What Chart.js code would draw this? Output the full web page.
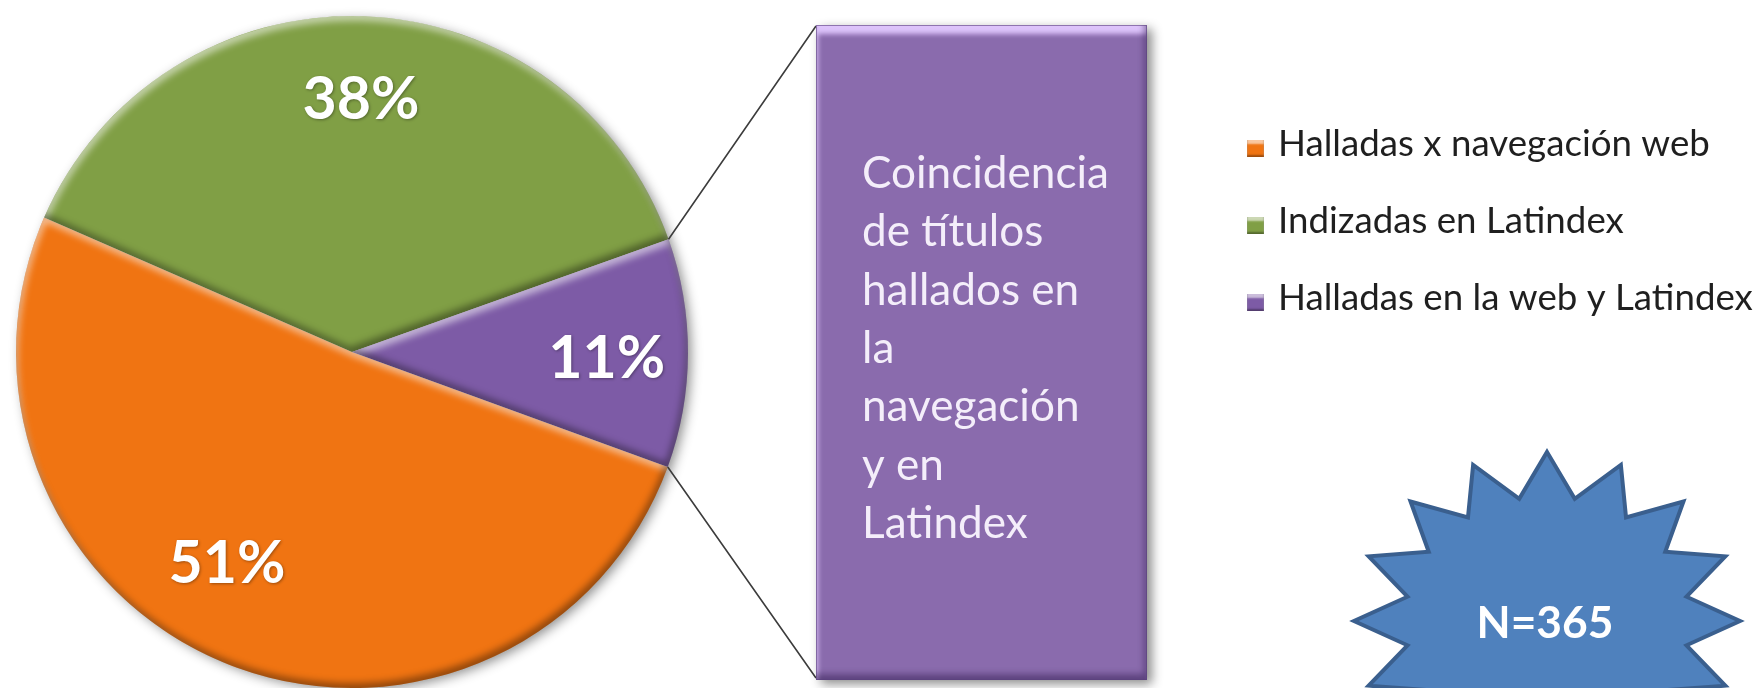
<!DOCTYPE html>
<html>
<head>
<meta charset="utf-8">
<script src="https://cdn.jsdelivr.net/npm/chart.js@4.4.1/dist/chart.umd.min.js"></script>
<style>
  html, body { margin: 0; padding: 0; background: #ffffff; overflow: hidden; }
  canvas { display: block; }
</style>
</head>
<body>
<canvas id="chart" width="1758" height="688"></canvas>
<script>
// ---------------- data ----------------
const categories = ['Halladas x navegación web', 'Indizadas en Latindex', 'Halladas en la web y Latindex'];
const values = [51, 38, 11];
const valueLabels = values.map(v => v + '%');
const calloutLines = ['Coincidencia', 'de títulos', 'hallados en', 'la', 'navegación', 'y en', 'Latindex'];
const sampleLabel = 'N=365';

// ---------------- styles ----------------
const sliceColors = ['#f07412', '#809f45', '#7d5ba6'];
const labelRadiusFrac = [0.727, 0.758, 0.758];
const labelAngleShiftDeg = [9, 0, 0.8];
const FONT = 'Lato, "Open Sans", "DejaVu Sans", sans-serif';
const calloutIndex = 2; // slice the callout box explains

const boxStyle = { x: 816, y: 25, w: 331, h: 655, fill: '#8a6bad' };
const calloutText = { x: 862, firstBaseline: 188, step: 58.3, refWidth: 247, color: '#f4eefa' };
const legendStyle = { markerX: 1247, textX: 1278, baselines: [156, 233, 310], marker: 17, refWidth: 432, color: '#1f1f1f' };
const starStyle = { cx: 1547, cy: 621, rx: 193, ry: 169, inner: 0.737, points: 16, fill: '#4f81bd', stroke: '#3a5f8e' };

function fitSize(ctx, text, weight, targetW) {
  ctx.font = weight + ' 100px ' + FONT;
  return 100 * targetW / ctx.measureText(text).width;
}

function insetShadow(ctx, buildPath, color, dx, dy, blur) {
  const OFF = 6000;
  ctx.save();
  ctx.beginPath(); buildPath(ctx); ctx.clip();
  ctx.translate(OFF, 0);
  ctx.beginPath();
  ctx.rect(-3000, -3000, 8000, 8000);
  buildPath(ctx);
  ctx.shadowColor = color;
  ctx.shadowBlur = blur;
  ctx.shadowOffsetX = -OFF + dx;
  ctx.shadowOffsetY = dy;
  ctx.fillStyle = '#000';
  ctx.fill('evenodd');
  ctx.restore();
}

function arcPath(p) {
  return c => { c.moveTo(p.x, p.y); c.arc(p.x, p.y, p.outerRadius, p.startAngle, p.endAngle); c.closePath(); };
}

const decor = {
  id: 'decor',
  beforeDatasetsDraw(chart) {
    const ctx = chart.ctx;
    const arc = chart.getDatasetMeta(0).data[0];
    const p = arc.getProps(['x', 'y', 'outerRadius'], true);
    ctx.save();
    ctx.shadowColor = 'rgba(0,0,0,0.45)';
    ctx.shadowBlur = 12;
    ctx.shadowOffsetX = 4;
    ctx.shadowOffsetY = 3;
    ctx.beginPath();
    ctx.arc(p.x, p.y, p.outerRadius - 1, 0, Math.PI * 2);
    ctx.fillStyle = '#ffffff';
    ctx.fill();
    ctx.restore();
  },
  afterDatasetsDraw(chart) {
    const ctx = chart.ctx;
    const meta = chart.getDatasetMeta(0);
    // bevel
    meta.data.forEach(arc => {
      const p = arc.getProps(['x', 'y', 'startAngle', 'endAngle', 'outerRadius'], true);
      const path = arcPath(p);
      insetShadow(ctx, path, 'rgba(255,255,255,0.55)', 2, 5, 7);
      insetShadow(ctx, path, 'rgba(0,0,0,0.38)', -2, -5, 7);
    });
    // percentage labels
    const size = fitSize(ctx, valueLabels[1], 'bold', 117);
    meta.data.forEach((arc, i) => {
      const p = arc.getProps(['x', 'y', 'startAngle', 'endAngle', 'outerRadius'], true);
      const mid = (p.startAngle + p.endAngle) / 2 + labelAngleShiftDeg[i] * Math.PI / 180;
      const r = p.outerRadius * labelRadiusFrac[i];
      const lx = p.x + Math.cos(mid) * r;
      const ly = p.y + Math.sin(mid) * r;
      ctx.save();
      ctx.font = 'bold ' + size.toFixed(1) + 'px ' + FONT;
      ctx.textAlign = 'center';
      ctx.textBaseline = 'alphabetic';
      ctx.fillStyle = '#ffffff';
      ctx.shadowColor = 'rgba(0,0,0,0.35)';
      ctx.shadowBlur = 3;
      ctx.shadowOffsetX = 1;
      ctx.shadowOffsetY = 1;
      ctx.fillText(valueLabels[i], lx, ly + size * 0.36);
      ctx.restore();
    });
  },
  afterDraw(chart) {
    const ctx = chart.ctx;
    const meta = chart.getDatasetMeta(0);
    const b = boxStyle;

    // connectors from the explained slice to the callout box
    const pa = meta.data[calloutIndex].getProps(['x', 'y', 'startAngle', 'endAngle', 'outerRadius'], true);
    const p1 = [pa.x + Math.cos(pa.startAngle) * pa.outerRadius, pa.y + Math.sin(pa.startAngle) * pa.outerRadius];
    const p2 = [pa.x + Math.cos(pa.endAngle) * pa.outerRadius, pa.y + Math.sin(pa.endAngle) * pa.outerRadius];
    ctx.save();
    ctx.strokeStyle = '#3c3c3c';
    ctx.lineWidth = 1.6;
    ctx.beginPath();
    ctx.moveTo(p1[0], p1[1]); ctx.lineTo(b.x, b.y + 1);
    ctx.moveTo(p2[0], p2[1]); ctx.lineTo(b.x, b.y + b.h - 2);
    ctx.stroke();
    ctx.restore();

    // callout box
    const rectPath = c => c.rect(b.x, b.y, b.w, b.h);
    ctx.save();
    ctx.shadowColor = 'rgba(0,0,0,0.45)';
    ctx.shadowBlur = 10;
    ctx.shadowOffsetX = 5;
    ctx.shadowOffsetY = 4;
    ctx.fillStyle = b.fill;
    ctx.beginPath(); rectPath(ctx); ctx.fill();
    ctx.restore();
    insetShadow(ctx, rectPath, 'rgba(225,200,255,0.95)', 2, 9, 5);
    insetShadow(ctx, rectPath, 'rgba(40,20,70,0.45)', -3, -6, 6);
    ctx.save();
    ctx.strokeStyle = 'rgba(90,65,125,0.6)';
    ctx.lineWidth = 1;
    ctx.strokeRect(b.x + 0.5, b.y + 0.5, b.w - 1, b.h - 1);
    ctx.restore();

    // callout text
    const ct = calloutText;
    const cs = fitSize(ctx, calloutLines[0], 'normal', ct.refWidth);
    ctx.save();
    ctx.font = cs.toFixed(1) + 'px ' + FONT;
    ctx.fillStyle = ct.color;
    ctx.textAlign = 'left';
    ctx.textBaseline = 'alphabetic';
    calloutLines.forEach((line, i) => ctx.fillText(line, ct.x, ct.firstBaseline + i * ct.step));
    ctx.restore();

    // legend
    const lg = legendStyle;
    const ls = fitSize(ctx, categories[0], 'normal', lg.refWidth);
    categories.forEach((name, i) => {
      const by = lg.baselines[i];
      const my = by - lg.marker + 1;
      const mPath = c => c.rect(lg.markerX, my, lg.marker, lg.marker);
      ctx.save();
      ctx.fillStyle = sliceColors[i];
      ctx.beginPath(); mPath(ctx); ctx.fill();
      ctx.restore();
      insetShadow(ctx, mPath, 'rgba(255,255,255,0.6)', 0, 4, 2);
      insetShadow(ctx, mPath, 'rgba(0,0,0,0.35)', 0, -2, 2);
      ctx.save();
      ctx.font = ls.toFixed(1) + 'px ' + FONT;
      ctx.fillStyle = lg.color;
      ctx.textAlign = 'left';
      ctx.textBaseline = 'alphabetic';
      ctx.fillText(name, lg.textX, by);
      ctx.restore();
    });

    // starburst
    const s = starStyle;
    ctx.save();
    ctx.beginPath();
    for (let k = 0; k < s.points * 2; k++) {
      const ang = -Math.PI / 2 + k * Math.PI / s.points;
      const f = k % 2 === 0 ? 1 : s.inner;
      const px = s.cx + Math.cos(ang) * s.rx * f;
      const py = s.cy + Math.sin(ang) * s.ry * f;
      if (k === 0) ctx.moveTo(px, py); else ctx.lineTo(px, py);
    }
    ctx.closePath();
    ctx.fillStyle = s.fill;
    ctx.fill();
    ctx.lineWidth = 4;
    ctx.lineJoin = 'miter';
    ctx.strokeStyle = s.stroke;
    ctx.stroke();
    const ns = fitSize(ctx, sampleLabel, 'bold', 137);
    ctx.font = 'bold ' + ns.toFixed(1) + 'px ' + FONT;
    ctx.fillStyle = '#ffffff';
    ctx.textAlign = 'center';
    ctx.textBaseline = 'alphabetic';
    ctx.fillText(sampleLabel, s.cx - 2, 638);
    ctx.restore();
  }
};

new Chart(document.getElementById('chart').getContext('2d'), {
  type: 'pie',
  data: {
    labels: categories,
    datasets: [{
      data: values,
      backgroundColor: sliceColors,
      borderWidth: 0,
      hoverOffset: 0
    }]
  },
  options: {
    responsive: false,
    animation: false,
    devicePixelRatio: 1,
    rotation: 110,
    events: [],
    layout: { padding: { left: 16, top: 16, right: 1070, bottom: 0 } },
    plugins: {
      legend: { display: false },
      tooltip: { enabled: false }
    }
  },
  plugins: [decor]
});
</script>
</body>
</html>
